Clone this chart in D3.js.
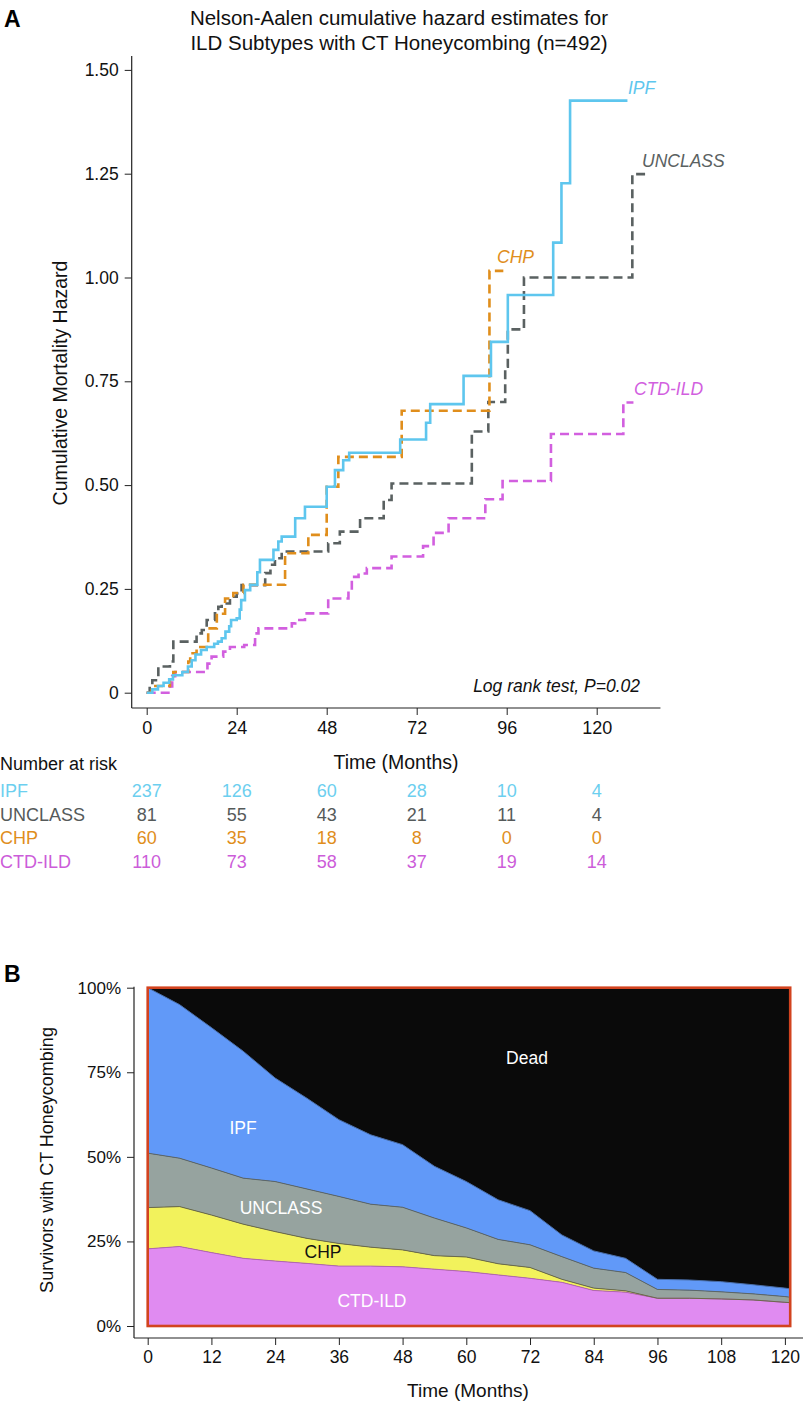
<!DOCTYPE html>
<html><head><meta charset="utf-8">
<script src="https://cdn.jsdelivr.net/npm/d3@7"></script>
<style>
body{margin:0;background:#fff}
svg{display:block}
text{font-family:"Liberation Sans",Arial,Helvetica,sans-serif}
</style>
</head><body>
<svg id="c" width="805" height="1404"></svg>
<script>
// ---------- Panel A data (Nelson-Aalen step estimates) ----------
const groups = ["IPF","UNCLASS","CHP","CTD-ILD"];
const ipfT = [0,1.5,3,4.5,6,7,9.5,11,12,13,14.5,16,18,19,20,21,22,22.5,24,24.8,25.2,26.2,27.6,29.5,30.2,33.8,35.1,36,39.6,42.2,48,50.2,52.4,54,67.6,74.5,75.6,84.5,91.8,96.3,108.4,110.6,112.9,128.2];
const ipfH = [0,0.008,0.016,0.024,0.032,0.042,0.05,0.063,0.078,0.092,0.103,0.11,0.118,0.123,0.131,0.147,0.16,0.175,0.179,0.2,0.223,0.247,0.26,0.29,0.32,0.344,0.364,0.376,0.42,0.448,0.496,0.536,0.56,0.578,0.61,0.65,0.695,0.763,0.845,0.958,1.084,1.227,1.426,1.426];
const uncT = [0,0.8,1.5,3.1,6.2,7.1,13.3,14.7,16,18.2,19.1,20,22.2,24,25.3,31.6,33,34.2,36,48.4,51.5,56.9,63.2,65.3,86.7,91.1,95.6,96.3,100.6,129.5,132.9];
const uncH = [0,0.016,0.03,0.063,0.075,0.123,0.143,0.151,0.175,0.191,0.207,0.215,0.231,0.239,0.259,0.288,0.308,0.324,0.34,0.36,0.388,0.42,0.464,0.504,0.629,0.70,0.785,0.875,1.0,1.249,1.249];
const chpT = [0,1.3,6.2,7.1,11.1,11.6,13.3,16.4,18.7,20.9,23.1,25.8,36.9,43.1,48,51.1,68,91.4,95.1];
const chpH = [0,0.016,0.03,0.05,0.075,0.095,0.11,0.155,0.19,0.227,0.24,0.26,0.336,0.38,0.496,0.568,0.679,1.016,1.016];
const ctdT = [0,6.2,6.8,7.6,16.2,17.3,20.4,22.2,26,28.9,29.8,38.7,39.6,42.2,48.4,53.8,54.7,56.5,58.7,65.3,73.7,76.5,80.5,90.3,94.9,107.8,127.1,129.8];
const ctdH = [0,0.015,0.04,0.05,0.07,0.087,0.099,0.11,0.115,0.143,0.155,0.167,0.175,0.191,0.227,0.247,0.279,0.287,0.3,0.328,0.353,0.385,0.42,0.466,0.51,0.623,0.699,0.699];

const yTicksA = [0,0.25,0.5,0.75,1,1.25,1.5];
const yTickLabelsA = ["0","0.25","0.50","0.75","1.00","1.25","1.50"];
const xTicksA = [0,24,48,72,96,120];

// Number at risk
const riskTimes = [0,24,48,72,96,120];
const riskIPF = [237,126,60,28,10,4];
const riskUNC = [81,55,43,21,11,4];
const riskCHP = [60,35,18,8,0,0];
const riskCTD = [110,73,58,37,19,14];

// ---------- Panel B data (survivor proportions, %) ----------
const bTimes = [0,6,12,18,24,30,36,42,48,54,60,66,72,78,84,90,96,102,108,114,120,121];
const bCTD = [22.8,23.5,21.7,20.0,19.2,18.5,17.7,17.7,17.5,16.8,16.1,15.1,14.1,12.9,10.5,10.0,8.2,8.2,8.0,7.7,7.0,6.9];
const bCHP = [12.2,11.8,11.1,10.1,8.7,7.4,6.7,5.6,5.0,4.0,4.3,3.3,3.2,0.9,0.7,0.4,0,0,0,0,0,0];
const bUNC = [16.1,14.3,13.9,13.6,14.8,14.6,13.9,12.7,12.6,11.1,8.6,7.2,6.7,6.7,5.9,5.4,2.6,2.4,2.1,1.8,1.7,1.6];
const bIPF = [48.9,45.4,41.5,37.5,30.6,26.8,22.7,20.5,18.5,15.3,13.7,11.7,10.1,6.4,5.1,4.2,3.0,3.0,3.0,2.7,2.5,2.5];
const xTicksB = [0,12,24,36,48,60,72,84,96,108,120];
const yTicksB = [0,0.25,0.5,0.75,1];

// ---------- styles ----------
const colA = {"IPF":"#5ec6ee","UNCLASS":"#5a6161","CHP":"#e08e1c","CTD-ILD":"#d25fdf"};
const colRisk = {"IPF":"#6ccfef","UNCLASS":"#555a5a","CHP":"#e08e1c","CTD-ILD":"#cc5cd9"};
const colB = {ctd:"#e08bf1",chp:"#f2f25c",unc:"#96a39f",ipf:"#6199f8",dead:"#0a0a0a"};
const edgeB = {ctd:"#b264b6",chp:"#6b6b4a",unc:"#5d6666",ipf:"#4a6ea8"};

const svg = d3.select("#c");
svg.append("rect").attr("width",805).attr("height",1404).attr("fill","#fff");

// ================= Panel A =================
const xA = d3.scaleLinear().domain([0,120]).range([146.7,596.7]);
const yA = d3.scaleLinear().domain([0,1.5]).range([692.7,69.9]);
const axA = {left:131.7, bottom:708};

svg.append("text").attr("x",4).attr("y",27).attr("font-size",23).attr("font-weight","bold").text("A");
const title = svg.append("text").attr("text-anchor","middle").attr("font-size",20.5).attr("fill","#111");
title.append("tspan").attr("x",399).attr("y",25).text("Nelson-Aalen cumulative hazard estimates for");
title.append("tspan").attr("x",399).attr("y",50).text("ILD Subtypes with CT Honeycombing (n=492)");

// y axis
const gyA = svg.append("g").attr("transform",`translate(${axA.left},0)`)
  .call(d3.axisLeft(yA).tickValues(yTicksA).tickFormat((d,i)=>yTickLabelsA[i]).tickSize(7).tickPadding(6));
gyA.select(".domain").remove();
gyA.selectAll("text").attr("font-size",17.5).attr("fill","#111").attr("font-family","Liberation Sans, Arial, sans-serif");
gyA.selectAll("line").attr("stroke","#222");
svg.append("line").attr("x1",axA.left).attr("x2",axA.left).attr("y1",56).attr("y2",axA.bottom).attr("stroke","#222").attr("stroke-width",1.2);

// x axis
const gxA = svg.append("g").attr("transform",`translate(0,${axA.bottom})`)
  .call(d3.axisBottom(xA).tickValues(xTicksA).tickSize(7).tickPadding(6));
gxA.select(".domain").remove();
gxA.selectAll("text").attr("font-size",18).attr("fill","#111").attr("font-family","Liberation Sans, Arial, sans-serif");
gxA.selectAll("line").attr("stroke","#222");
svg.append("line").attr("x1",axA.left).attr("x2",xA(137)).attr("y1",axA.bottom).attr("y2",axA.bottom).attr("stroke","#222").attr("stroke-width",1.2);

svg.append("text").attr("x",396).attr("y",769).attr("text-anchor","middle").attr("font-size",19.5).attr("fill","#111").text("Time (Months)");
svg.append("text").attr("transform","translate(67,383) rotate(-90)").attr("text-anchor","middle").attr("font-size",19.5).attr("fill","#111").text("Cumulative Mortality Hazard");

// step curves
const stepLine = d3.line().x(d=>xA(d[0])).y(d=>yA(d[1])).curve(d3.curveStepAfter);
const seriesA = [
  {name:"CTD-ILD", t:ctdT, h:ctdH, dash:"9,5"},
  {name:"UNCLASS", t:uncT, h:uncH, dash:"9,5"},
  {name:"CHP", t:chpT, h:chpH, dash:"9,5"},
  {name:"IPF", t:ipfT, h:ipfH, dash:null}
];
seriesA.forEach(s=>{
  const pts = s.t.map((t,i)=>[t,s.h[i]]);
  svg.append("path").attr("d",stepLine(pts)).attr("fill","none")
    .attr("stroke",colA[s.name]).attr("stroke-width",2.6)
    .attr("stroke-dasharray",s.dash).attr("stroke-linejoin","miter");
});

// curve labels
const labA = [
  {name:"IPF", x:628, y:94},
  {name:"UNCLASS", x:642, y:167},
  {name:"CHP", x:497, y:263},
  {name:"CTD-ILD", x:634, y:395}
];
labA.forEach(l=>svg.append("text").attr("x",l.x).attr("y",l.y).attr("font-size",17.5).attr("font-style","italic").attr("fill",colA[l.name]).text(l.name));

svg.append("text").attr("x",640).attr("y",692).attr("text-anchor","end").attr("font-size",17.5).attr("font-style","italic").attr("fill","#111").text("Log rank test, P=0.02");

// number at risk
svg.append("text").attr("x",0).attr("y",770).attr("font-size",18).attr("fill","#111").text("Number at risk");
const riskRows = [
  {name:"IPF", v:riskIPF},
  {name:"UNCLASS", v:riskUNC},
  {name:"CHP", v:riskCHP},
  {name:"CTD-ILD", v:riskCTD}
];
const rowY = d3.scalePoint().domain(groups).range([797,868]);
riskRows.forEach(r=>{
  svg.append("text").attr("x",0).attr("y",rowY(r.name)).attr("font-size",18).attr("fill",colRisk[r.name]).text(r.name);
  r.v.forEach((v,i)=>svg.append("text").attr("x",xA(riskTimes[i])).attr("y",rowY(r.name))
    .attr("text-anchor","middle").attr("font-size",18).attr("fill",colRisk[r.name]).text(v));
});

// ================= Panel B =================
const xB = d3.scaleLinear().domain([0,120]).range([147.7,784.9]);
const yB = d3.scaleLinear().domain([0,1]).range([1326,987.7]);
const axB = {left:134, bottom:1338};

svg.append("text").attr("x",4).attr("y",982).attr("font-size",23).attr("font-weight","bold").text("B");

const tableB = bTimes.map((t,i)=>({t, ctd:bCTD[i]/100, chp:bCHP[i]/100, unc:bUNC[i]/100, ipf:bIPF[i]/100}));
const keysB = ["ctd","chp","unc","ipf"];
const stacked = d3.stack().keys(keysB)(tableB);
const tEnd = bTimes[bTimes.length-1];

// dead background
svg.append("rect").attr("x",xB(0)).attr("y",yB(1)).attr("width",xB(tEnd)-xB(0)).attr("height",yB(0)-yB(1)).attr("fill",colB.dead);
const areaB = d3.area().x(d=>xB(d.data.t)).y0(d=>yB(d[0])).y1(d=>yB(d[1]));
const topB = d3.line().x(d=>xB(d.data.t)).y(d=>yB(d[1]));
stacked.forEach(layer=>{
  svg.append("path").attr("d",areaB(layer)).attr("fill",colB[layer.key]);
});
stacked.forEach(layer=>{
  svg.append("path").attr("d",topB(layer)).attr("fill","none").attr("stroke",edgeB[layer.key]).attr("stroke-width",1);
});
svg.append("rect").attr("x",xB(0)).attr("y",yB(1)).attr("width",xB(tEnd)-xB(0)).attr("height",yB(0)-yB(1))
  .attr("fill","none").attr("stroke","#d2431f").attr("stroke-width",2.6);

// labels in areas
const labB = [
  {t:"Dead", x:527, y:1064, c:"#fff"},
  {t:"IPF", x:243, y:1134, c:"#fff"},
  {t:"UNCLASS", x:281, y:1214, c:"#fff"},
  {t:"CHP", x:323, y:1258, c:"#111"},
  {t:"CTD-ILD", x:372, y:1307, c:"#fff"}
];
labB.forEach(l=>svg.append("text").attr("x",l.x).attr("y",l.y).attr("text-anchor","middle").attr("font-size",17.5).attr("fill",l.c).text(l.t));

// axes B
const gyB = svg.append("g").attr("transform",`translate(${axB.left},0)`)
  .call(d3.axisLeft(yB).tickValues(yTicksB).tickFormat(d3.format(".0%")).tickSize(7).tickPadding(6));
gyB.select(".domain").remove();
gyB.selectAll("text").attr("font-size",17).attr("fill","#111").attr("font-family","Liberation Sans, Arial, sans-serif");
gyB.selectAll("line").attr("stroke","#222");
svg.append("line").attr("x1",axB.left).attr("x2",axB.left).attr("y1",yB(1)-1).attr("y2",axB.bottom).attr("stroke","#222").attr("stroke-width",1.2);

const gxB = svg.append("g").attr("transform",`translate(0,${axB.bottom})`)
  .call(d3.axisBottom(xB).tickValues(xTicksB).tickSize(7).tickPadding(6));
gxB.select(".domain").remove();
gxB.selectAll("text").attr("font-size",17.5).attr("fill","#111").attr("font-family","Liberation Sans, Arial, sans-serif");
gxB.selectAll("line").attr("stroke","#222");
svg.append("line").attr("x1",axB.left).attr("x2",803).attr("y1",axB.bottom).attr("y2",axB.bottom).attr("stroke","#222").attr("stroke-width",1.2);

svg.append("text").attr("x",468).attr("y",1397).attr("text-anchor","middle").attr("font-size",19).attr("fill","#111").text("Time (Months)");
svg.append("text").attr("transform","translate(53,1160) rotate(-90)").attr("text-anchor","middle").attr("font-size",18).attr("fill","#111").text("Survivors with CT Honeycombing");
</script>
</body></html>
